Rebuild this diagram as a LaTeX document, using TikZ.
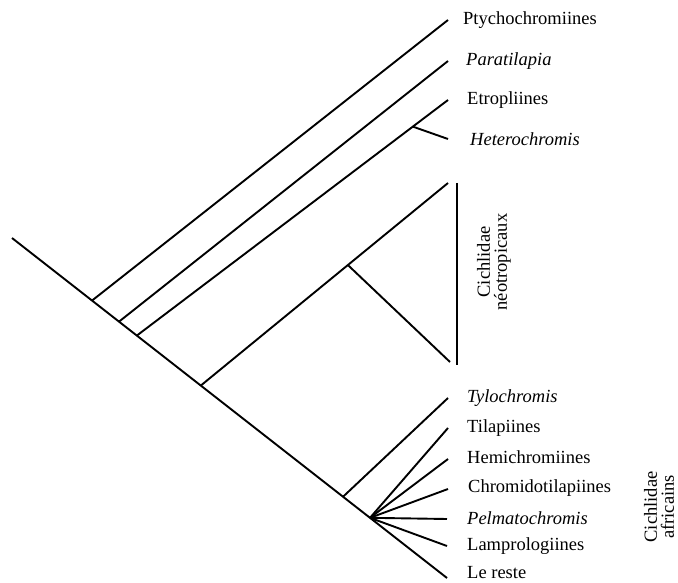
\documentclass[tikz,border=0pt]{standalone}
\usepackage{fontspec}
\setmainfont{Liberation Serif}
\usetikzlibrary{%
  positioning,%
  calc%
}

\begin{document}
\begin{tikzpicture}[x=1pt, y=-1pt,
    branch/.style={line width=1.9pt},
    taxon/.style={inner sep=0pt, font=\fontsize{18.5}{20}\selectfont},
    group/.style={rotate=90, align=center, inner sep=0pt,
    font=\fontsize{18.5}{17}\selectfont}
]
    \useasboundingbox (0,0) rectangle (678,583);
    % root and tips
    \coordinate (root) at (12,238);
    \coordinate (t1) at (448,20);
    \coordinate (t2) at (448,61);
    \coordinate (t3) at (448,100);
    \coordinate (t4) at (448,139);
    \coordinate (n1) at (448,183);
    \coordinate (n2) at (450,362);
    \coordinate (t5) at (448,398);
    \coordinate (t6) at (448,428);
    \coordinate (t7) at (448,459);
    \coordinate (t8) at (448,489);
    \coordinate (t9) at (447,519);
    \coordinate (t10) at (447,546);
    \coordinate (t11) at (447,578);
    \coordinate (bar1) at (457,183);
    \coordinate (bar2) at (457,365);
    % backbone
    \draw[branch] (root) -- (t11)
        coordinate[pos=0.184] (b1)
        coordinate[pos=0.246] (b2)
        coordinate[pos=0.287] (b3)
        coordinate[pos=0.434] (b4)
        coordinate[pos=0.761] (b5)
        coordinate[pos=0.823] (b6);
    \draw[branch] (b1) -- (t1);
    \draw[branch] (b2) -- (t2);
    \draw[branch] (b3) -- (t3) coordinate[pos=0.887] (h);
    \draw[branch] (h) -- (t4);
    \draw[branch] (b4) -- (n1) coordinate[pos=0.595] (n0);
    \draw[branch] (n0) -- (n2);
    \draw[branch] (bar1) -- (bar2);
    \draw[branch] (b5) -- (t5);
    \foreach \i in {6,...,10}
        \draw[branch] (b6) -- (t\i);
    % tip labels
    \node[taxon, right=15pt of t1] (l1) {Ptychochromiines};
    \node[taxon, right=18pt of t2] (l2) {\textit{Paratilapia}};
    \node[taxon, right=19pt of t3] (l3) {Etropliines};
    \node[taxon, right=22pt of t4] (l4) {\textit{Heterochromis}};
    \node[taxon, right=19pt of t5] (l5) {\textit{Tylochromis}};
    \node[taxon, right=19pt of t6] (l6) {Tilapiines};
    \node[taxon, right=19pt of t7, yshift=2pt] (l7) {Hemichromiines};
    \node[taxon, right=20pt of t8, yshift=1pt] (l8) {Chromidotilapiines};
    \node[taxon, right=20pt of t9, yshift=1pt] (l9) {\textit{Pelmatochromis}};
    \node[taxon, right=20pt of t10] (l10) {Lamprologiines};
    \node[taxon, right=20pt of t11, yshift=5pt] (l11) {Le reste};
    % groups
    \node[group] (neo) at (494,262) {Cichlidae\\néotropicaux};
    \node[group] (afr) at (659,507) {Cichlidae\\africains};
\end{tikzpicture}
\end{document}
